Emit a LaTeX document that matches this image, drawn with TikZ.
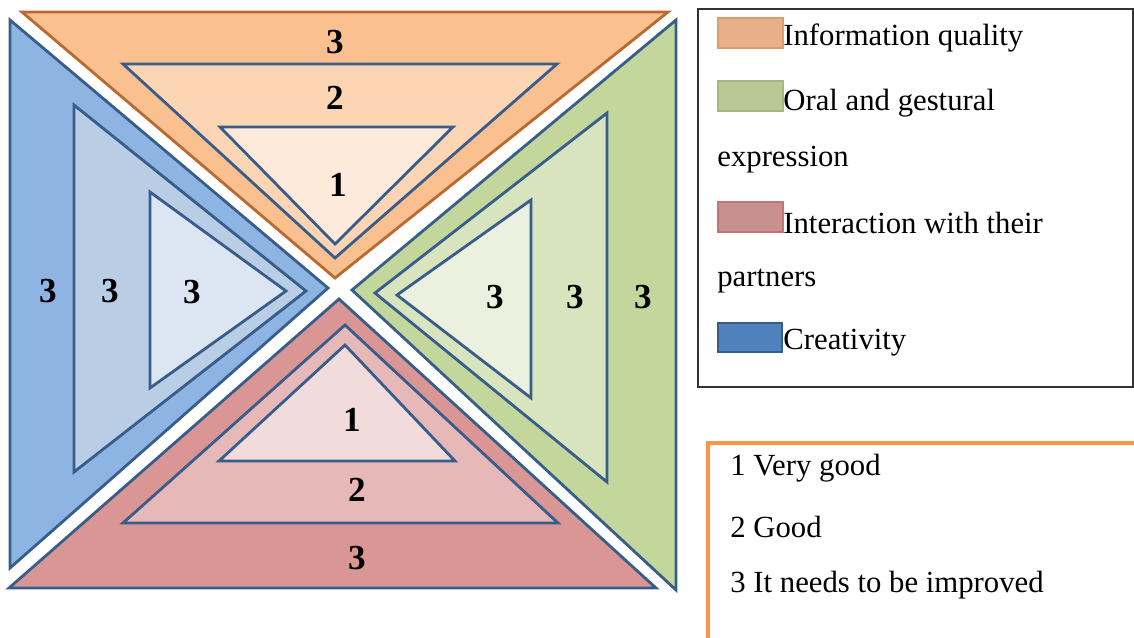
\documentclass[tikz,border=0pt]{standalone}
\usepackage{fontspec}
\setmainfont{Liberation Serif}
\definecolor{edgeblue}{HTML}{385D8A}
\definecolor{edgeorange}{HTML}{B86A30}
\definecolor{orangeA}{HTML}{FAC090}
\definecolor{orangeB}{HTML}{FCD5B4}
\definecolor{orangeC}{HTML}{FDEADA}
\definecolor{blueA}{HTML}{8EB4E3}
\definecolor{blueB}{HTML}{B9CDE5}
\definecolor{blueC}{HTML}{DCE6F2}
\definecolor{greenA}{HTML}{C3D69B}
\definecolor{greenB}{HTML}{D7E4BD}
\definecolor{greenC}{HTML}{EBF1DE}
\definecolor{redA}{HTML}{D99694}
\definecolor{redB}{HTML}{E6B9B8}
\definecolor{redC}{HTML}{F2DCDB}
\definecolor{boxorange}{HTML}{F79646}
\definecolor{keyorange}{HTML}{E6B08A}
\definecolor{keyorangeedge}{HTML}{DE9C6A}
\definecolor{keygreen}{HTML}{B8C995}
\definecolor{keygreenedge}{HTML}{A3B87A}
\definecolor{keyred}{HTML}{C99090}
\definecolor{keyrededge}{HTML}{C07474}
\definecolor{keyblue}{HTML}{4F81BD}
\begin{document}
\begin{tikzpicture}
[x=0.02cm,y=-0.02cm,
  tridecorate/.style={draw=edgeblue,line width=1.6pt,line join=miter},%
  numdecorate/.style={font=\fontsize{20}{22}\selectfont\bfseries,inner sep=0pt},%
  legenddecorate/.style={font=\fontsize{17.5}{20}\selectfont,anchor=west,inner sep=0pt},%
  swatchdecorate/.style={line width=1.2pt}]
\useasboundingbox (0,0) rectangle (1134,637);
% top triangles
\draw[tridecorate,draw=edgeorange,fill=orangeA] (22,12) -- (668,12) -- (335,278) -- cycle;
\draw[tridecorate,fill=orangeB] (123,64) -- (557,64) -- (335,258) -- cycle;
\draw[tridecorate,fill=orangeC] (220,127) -- (453,127) -- (335,244) -- cycle;
% left triangles
\draw[tridecorate,fill=blueA] (10,20) -- (328,288) -- (10,568) -- cycle;
\draw[tridecorate,fill=blueB] (74,105) -- (306,291) -- (74,472) -- cycle;
\draw[tridecorate,fill=blueC] (150,192) -- (286,291) -- (150,388) -- cycle;
% right triangles
\draw[tridecorate,fill=greenA] (676,20) -- (352,290) -- (676,590) -- cycle;
\draw[tridecorate,fill=greenB] (607,113) -- (375,293) -- (607,482) -- cycle;
\draw[tridecorate,fill=greenC] (531,200) -- (397,295) -- (531,398) -- cycle;
% bottom triangles
\draw[tridecorate,fill=redA] (339,299) -- (656,588) -- (9,588) -- cycle;
\draw[tridecorate,fill=redB] (345,325) -- (558,523) -- (123,523) -- cycle;
\draw[tridecorate,fill=redC] (345,345) -- (455,461) -- (219,461) -- cycle;
% scores
\node (o3) at (335,42) [numdecorate] {3};
\node (o2) at (335,98) [numdecorate] {2};
\node (o1) at (338,185) [numdecorate] {1};
\node (b3a) at (48,291) [numdecorate] {3};
\node (b3b) at (110,291) [numdecorate] {3};
\node (b3c) at (192,292) [numdecorate] {3};
\node (g3a) at (495,297) [numdecorate] {3};
\node (g3b) at (575,297) [numdecorate] {3};
\node (g3c) at (643,297) [numdecorate] {3};
\node (r1) at (352,420) [numdecorate] {1};
\node (r2) at (357,490) [numdecorate] {2};
\node (r3) at (357,558) [numdecorate] {3};
% legend of skills
\draw[line width=1.2pt,draw=black!80] (698,9) rectangle (1133,387);
\draw[swatchdecorate,draw=keyorangeedge,fill=keyorange] (718,18) rectangle (783,48);
\draw[swatchdecorate,draw=keygreenedge,fill=keygreen] (718,81) rectangle (783,111);
\draw[swatchdecorate,draw=keyrededge,fill=keyred] (718,202) rectangle (783,232);
\draw[swatchdecorate,draw=edgeblue,fill=keyblue] (718,323) rectangle (782,352);
\node (info) at (783,38) [legenddecorate] {Information quality};
\node (oral) at (783,103) [legenddecorate] {Oral and gestural};
\node (expr) at (717,160) [legenddecorate] {expression};
\node (inter) at (783,223) [legenddecorate] {Interaction with their};
\node (part) at (717,281) [legenddecorate] {partners};
\node (crea) at (783,343) [legenddecorate] {Creativity};
% legend of scores
\draw[line width=2.4pt,draw=boxorange] (708,443) rectangle (1150,650);
\node (vg) at (730,468) [legenddecorate] {1 Very good};
\node (good) at (730,527) [legenddecorate] {2 Good};
\node (impr) at (730,585) [legenddecorate] {3 It needs to be improved};
\end{tikzpicture}
\end{document}
